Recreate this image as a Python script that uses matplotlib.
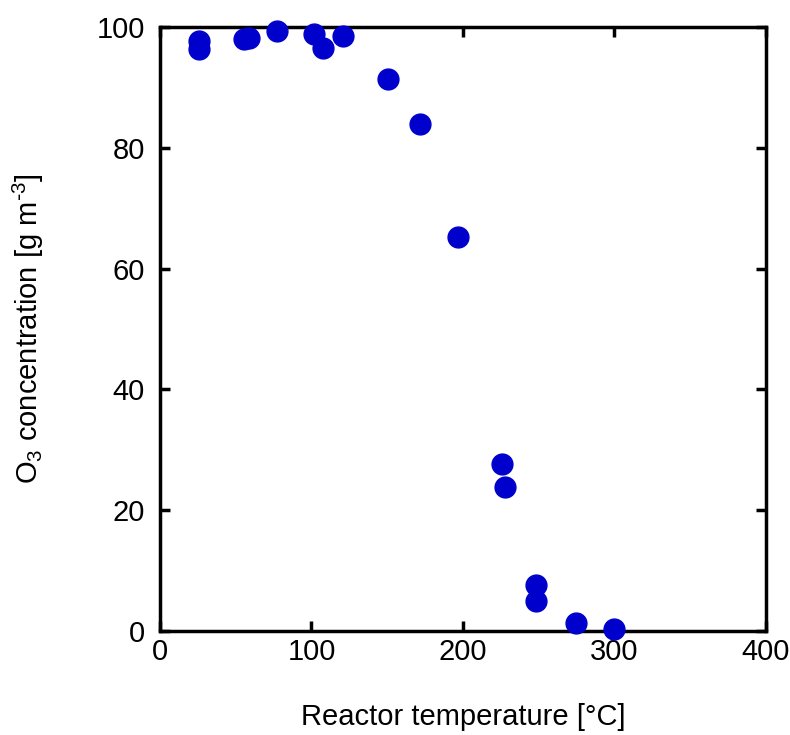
import matplotlib.pyplot as plt
import numpy as np

plt.rcParams['font.family'] = ['Liberation Sans', 'DejaVu Sans']
plt.rcParams['mathtext.default'] = 'regular'

# reactor temperature [degC] and O3 concentration [g m-3]
temp = [25.7, 25.7, 55.4, 58.7, 77.2, 101.7, 107.6, 120.8, 150.5, 171.6,
        196.7, 225.7, 227.7, 248.2, 248.2, 274.6, 299.7]
o3 = [97.6, 96.4, 98.0, 98.2, 99.3, 98.8, 96.5, 98.5, 91.4, 83.9,
      65.2, 27.6, 23.9, 7.6, 5.0, 1.4, 0.3]

fig = plt.figure(figsize=(7.9, 7.35), dpi=100)
ax = fig.add_axes([0.2025, 0.1415, 0.767, 0.8218])

ax.plot(temp, o3, 'o', color='#0000CC', markersize=15, clip_on=False, zorder=3)

ax.set_xlim(0, 400)
ax.set_ylim(0, 100)
ax.set_xticks([0, 100, 200, 300, 400])
ax.set_yticks([0, 20, 40, 60, 80, 100])

for s in ax.spines.values():
    s.set_linewidth(2.5)
ax.tick_params(direction='in', length=7.5, width=2.5, labelsize=21,
               top=True, right=True)
ax.tick_params(axis='x', pad=5)
ax.tick_params(axis='y', pad=11)

ax.set_xlabel('Reactor temperature [°C]', fontsize=21, labelpad=27)
ax.set_ylabel(r'O$_3$ concentration [g m$^{\text{-}3}$]', fontsize=21, labelpad=36)

fig.savefig('out.png', dpi=100)
